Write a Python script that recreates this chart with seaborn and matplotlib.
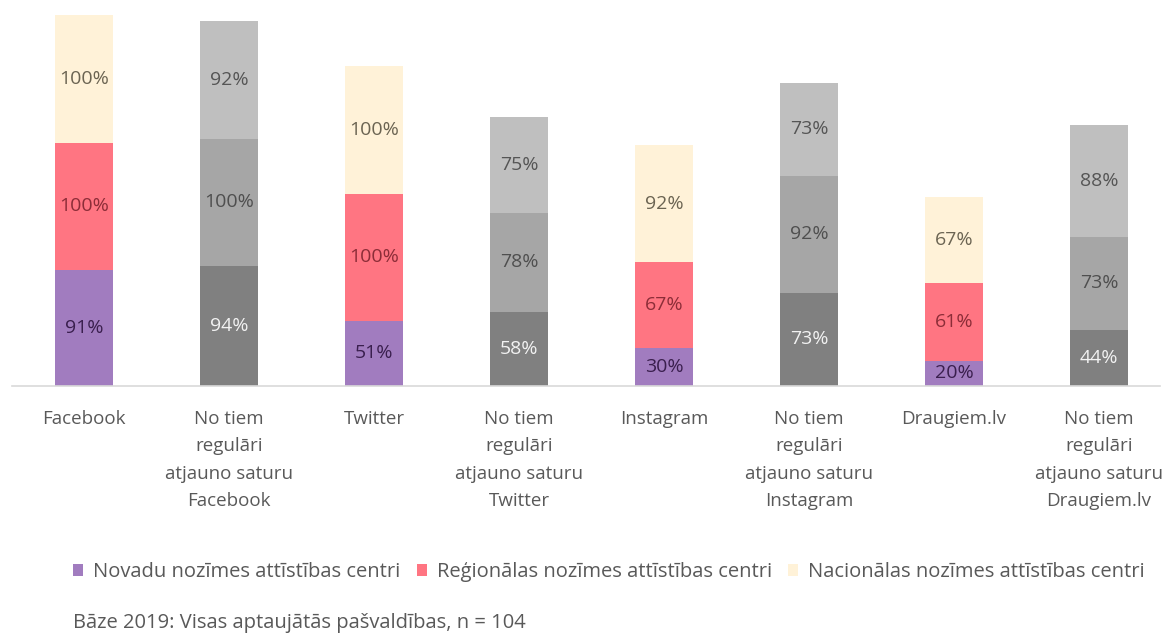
import matplotlib
matplotlib.use("Agg")
import matplotlib.pyplot as plt
import seaborn as sns
import pandas as pd
from matplotlib.patches import Patch

sns.set_style("white")
plt.rcParams['font.family'] = ['Open Sans', 'DejaVu Sans']

categories = [
    "Facebook",
    "No tiem\nregulāri\natjauno saturu\nFacebook",
    "Twitter",
    "No tiem\nregulāri\natjauno saturu\nTwitter",
    "Instagram",
    "No tiem\nregulāri\natjauno saturu\nInstagram",
    "Draugiem.lv",
    "No tiem\nregulāri\natjauno saturu\nDraugiem.lv",
]
novadu = [91, 94, 51, 58, 30, 73, 20, 44]
regionalas = [100, 100, 100, 78, 67, 92, 61, 73]
nacionalas = [100, 92, 100, 75, 92, 73, 67, 88]
series_names = ["Novadu nozīmes attīstības centri",
                "Reģionālas nozīmes attīstības centri",
                "Nacionālas nozīmes attīstības centri"]
footnote = "Bāze 2019: Visas aptaujātās pašvaldības, n = 104"

col_main = ["#a17cbf", "#ff7582", "#fff2d8"]
col_gray = ["#808080", "#a6a6a6", "#bfbfbf"]
txt_main = ["#3a1f4e", "#8c2d38", "#6b6452"]
txt_gray = ["#f2f2f2", "#4f4f4f", "#555555"]

df = pd.DataFrame({"cat": categories, "s1": novadu, "s2": regionalas, "s3": nacionalas})
df["c2"] = df["s1"] + df["s2"]
df["c3"] = df["c2"] + df["s3"]

fig = plt.figure(figsize=(11.65, 6.34), dpi=100)
W, H = 1165, 634
ax = fig.add_axes([11.5 / W, 1 - 386 / H, (1160 - 11.5) / W, (386 - 10) / H])

layers = ["c3", "c2", "s1"]
for li, col in enumerate(layers):
    k = 2 - li
    pal = [(col_main[k] if i % 2 == 0 else col_gray[k]) for i in range(len(categories))]
    sns.barplot(data=df, x="cat", y=col, hue="cat", order=categories, hue_order=categories,
                palette=pal, legend=False, width=0.4, ax=ax, saturation=1, linewidth=0)

vals = [novadu, regionalas, nacionalas]
for i in range(len(categories)):
    bottom = 0
    for k in range(3):
        v = vals[k][i]
        tc = txt_main[k] if i % 2 == 0 else txt_gray[k]
        ax.text(i, bottom + v / 2, f"{v}%", ha="center", va="center", fontsize=14, color=tc)
        bottom += v

ax.set_xlim(-0.5, 7.42)
ax.set_ylim(0, 295)
ax.set_xlabel("")
ax.set_ylabel("")
ax.set_yticks([])
for s in ["top", "right", "left"]:
    ax.spines[s].set_visible(False)
ax.spines["bottom"].set_color("#d9d9d9")
ax.spines["bottom"].set_linewidth(1.2)
ax.tick_params(axis="x", length=0, pad=17.5, labelsize=13.5, labelcolor="#595959")
for lab in ax.get_xticklabels():
    lab.set_linespacing(1.65)
    lab.set_verticalalignment("top")

handles = [Patch(facecolor=c, edgecolor="none", label=n) for c, n in zip(col_main, series_names)]
fig.legend(handles=handles, loc="center left", bbox_to_anchor=(73 / W, 1 - 572 / H), ncol=3,
           frameon=False, fontsize=14.5, handlelength=0.5, handleheight=0.6, handletextpad=0.5,
           columnspacing=0.8, borderpad=0, borderaxespad=0, labelcolor="#595959")
fig.text(73 / W, 1 - 623 / H, footnote, ha="left", va="center", fontsize=14.5, color="#595959")

fig.savefig("out.png", dpi=100)
